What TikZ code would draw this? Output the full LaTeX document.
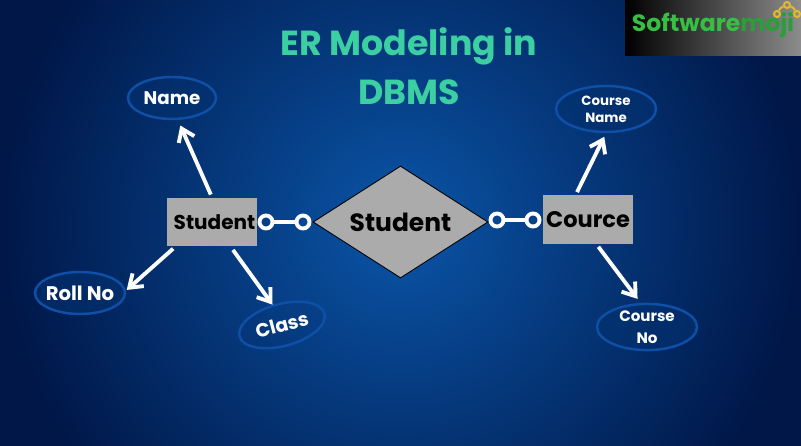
\documentclass[tikz,border=0pt]{standalone}
\usepackage{fontspec}
\setmainfont{Poppins}
\usetikzlibrary{shapes.geometric,arrows.meta}
\definecolor{glow}{HTML}{0A55A8}
\definecolor{navy}{HTML}{001748}
\definecolor{ringblue}{HTML}{0F4FA6}
\definecolor{ovalfill}{HTML}{03316F}
\definecolor{boxgray}{HTML}{ABABAB}
\definecolor{titlegreen}{HTML}{3CCFA2}
\definecolor{logogreen}{HTML}{35C043}
\definecolor{logodark}{HTML}{2A9E3A}
\definecolor{logogold}{HTML}{E0B92E}
\tikzset{
  ent/.style={rectangle,fill=boxgray,text=black,inner sep=0pt,font=\fontsize{5.7}{6}\selectfont\bfseries},
  rel/.style={diamond,aspect=2,draw=black,line width=0.25pt,fill=boxgray,text=black,inner sep=0pt,minimum width=1.75cm,minimum height=1.12cm,font=\fontsize{7.1}{8}\selectfont\bfseries},
  attr/.style={ellipse,draw=ringblue,line width=0.7pt,fill=ovalfill,fill opacity=0.6,text opacity=1,text=white,inner sep=0pt,align=center},
  ring/.style={circle,draw=white,line width=1.1pt,inner sep=0pt,minimum size=0.13cm},
  link/.style={draw=white,line width=1.1pt},
  arr/.style={draw=white,line width=1.1pt,-{Straight Barb[length=1.2mm,width=1.7mm]}},
  gold/.style={circle,draw=logogold,line width=0.6pt,inner sep=0pt,minimum size=0.06cm},
}
\begin{document}
\begin{tikzpicture}
    \useasboundingbox (0,0) rectangle (8.01,4.45);
    % background
    \begin{scope}
    \clip (0,0) rectangle (8.01,4.45);
    \shade [inner color=glow,outer color=navy] (0,-1.8) rectangle (8.01,6.21);
    \end{scope}
    \shade [left color=black,right color=black!45] (6.25,3.89) rectangle (8.01,4.45);
    \node [font=\fontsize{6.7}{7}\selectfont\bfseries] (logo) at (7.13,4.2) {\textcolor{logogreen}{Software}\textcolor{logodark}{moji}};
    \node [gold] (g0) at (7.87,4.40) {};
    \node [gold] (g1) at (7.77,4.31) {};
    \node [gold] (g2) at (7.97,4.31) {};
    \draw [logogold,line width=0.6pt] (g1) to [bend left=20] (g0);
    \draw [logogold,line width=0.6pt] (g0) to [bend left=20] (g2);
    % title
    \node [text=titlegreen,font=\fontsize{9.9}{10}\selectfont\bfseries] (t1) at (4.09,3.99) {ER Modeling in};
    \node [text=titlegreen,font=\fontsize{9.9}{10}\selectfont\bfseries] (t2) at (4.09,3.53) {DBMS};
    % entities
    \node [ent,minimum width=0.9cm,minimum height=0.48cm] (stu) at (2.12,2.23) {\hspace*{0.05cm}Student};
    \node [ent,minimum width=0.9cm,minimum height=0.49cm,font=\fontsize{6.4}{7}\selectfont\bfseries] (crs) at (5.88,2.25) {Cource};
    \node [rel] (enr) at (4.005,2.23) {Student};
    % attributes
    \node [attr,minimum width=0.88cm,minimum height=0.42cm,font=\fontsize{5.2}{6}\selectfont\bfseries] (name) at (1.72,3.47) {Name};
    \node [attr,inner sep=-0.04cm,minimum width=0.9cm,minimum height=0.42cm,font=\fontsize{5.6}{6}\selectfont\bfseries] (roll) at (0.8,1.52) {Roll No};
    \node [attr,fill opacity=0.15,minimum width=0.88cm,minimum height=0.42cm,rotate=15,font=\fontsize{5.4}{6}\selectfont\bfseries] (cls) at (2.82,1.2) {Class};
    \node [attr,minimum width=1cm,minimum height=0.46cm,font=\fontsize{3.8}{4.9}\selectfont\bfseries] (cname) at (6.06,3.36) {Course\\Name};
    \node [attr,minimum width=1cm,minimum height=0.46cm,font=\fontsize{4.3}{6.2}\selectfont\bfseries] (cno) at (6.47,1.18) {Course\\No};
    % rings
    \node [ring] (r1) at (2.66,2.23) {};
    \node [ring] (r2) at (3.03,2.23) {};
    \node [ring] (r3) at (4.97,2.25) {};
    \node [ring] (r4) at (5.33,2.25) {};
    % edges
    \draw [link] (r1) -- (r2);
    \draw [link] (r3) -- (r4);
    \draw [arr,shorten <=0.03cm,shorten >=0.06cm] (stu.north) -- (name.-75);
    \draw [arr,shorten <=0.03cm,shorten >=0.01cm] (stu.-146) -- (roll.3);
    \draw [arr,shorten <=0.04cm] (stu.-53) -- (cls.100);
    \draw [arr,shorten <=0.03cm,shorten >=0.04cm] (crs.116) -- (cname.south);
    \draw [arr,shorten <=0.02cm,shorten >=0.05cm] (crs.-70) -- (cno.105);
\end{tikzpicture}
\end{document}
